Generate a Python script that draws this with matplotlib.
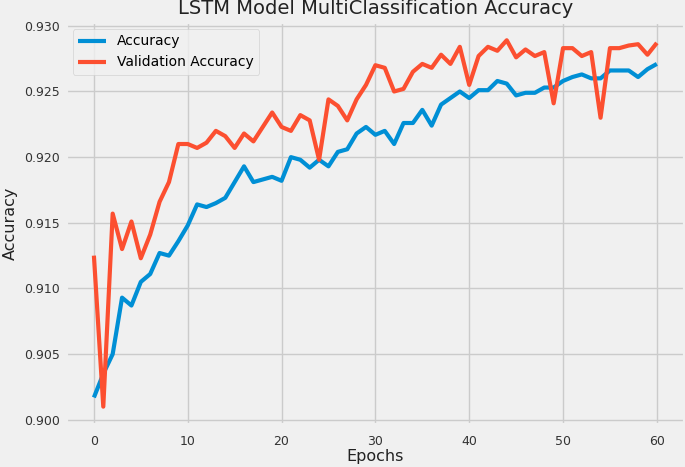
import matplotlib
matplotlib.use("Agg")
import matplotlib.pyplot as plt

plt.style.use("fivethirtyeight")

epochs = list(range(61))

accuracy = [0.9017, 0.9035, 0.9050, 0.9093, 0.9087, 0.9105, 0.9111, 0.9127, 0.9125, 0.9136,
            0.9148, 0.9164, 0.9162, 0.9165, 0.9169, 0.9181, 0.9193, 0.9181, 0.9183, 0.9185,
            0.9182, 0.9200, 0.9198, 0.9192, 0.9198, 0.9193, 0.9204, 0.9206, 0.9218, 0.9223,
            0.9217, 0.9220, 0.9210, 0.9226, 0.9226, 0.9236, 0.9224, 0.9240, 0.9245, 0.9250,
            0.9245, 0.9251, 0.9251, 0.9258, 0.9256, 0.9247, 0.9249, 0.9249, 0.9253, 0.9253,
            0.9258, 0.9261, 0.9263, 0.9260, 0.9260, 0.9266, 0.9266, 0.9266, 0.9261, 0.9267,
            0.9271]

val_accuracy = [0.9125, 0.9010, 0.9157, 0.9130, 0.9151, 0.9123, 0.9141, 0.9166, 0.9181, 0.9210,
                0.9210, 0.9207, 0.9211, 0.9220, 0.9216, 0.9207, 0.9218, 0.9212, 0.9223, 0.9234,
                0.9223, 0.9220, 0.9232, 0.9228, 0.9198, 0.9244, 0.9239, 0.9228, 0.9244, 0.9255,
                0.9270, 0.9268, 0.9250, 0.9252, 0.9265, 0.9271, 0.9268, 0.9278, 0.9271, 0.9284,
                0.9255, 0.9277, 0.9284, 0.9281, 0.9289, 0.9276, 0.9282, 0.9277, 0.9280, 0.9241,
                0.9283, 0.9283, 0.9277, 0.9280, 0.9230, 0.9283, 0.9283, 0.9285, 0.9286, 0.9278,
                0.9287]

fig = plt.figure(figsize=(6.85, 4.67), dpi=100)
ax = fig.add_axes([0.096, 0.09, 0.904, 0.863])

ax.plot(epochs, accuracy, label="Accuracy", linewidth=3)
ax.plot(epochs, val_accuracy, label="Validation Accuracy", linewidth=3)

ax.set_title("LSTM Model MultiClassification Accuracy", fontsize=14, pad=6, color="#222222")
ax.set_xlabel("Epochs", fontsize=11.5, labelpad=1, color="#222222")
ax.set_ylabel("Accuracy", fontsize=11.5, labelpad=5, color="#222222")
ax.tick_params(labelsize=9, labelcolor="#333333")
ax.tick_params(axis="x", pad=7)
ax.tick_params(axis="y", pad=4)
ax.set_yticks([0.900, 0.905, 0.910, 0.915, 0.920, 0.925, 0.930])
ax.set_yticklabels(["0.900", "0.905", "0.910", "0.915", "0.920", "0.925", "0.930"])
ax.legend(loc="upper left", fontsize=10, frameon=True)

fig.savefig("out.png", dpi=100)
